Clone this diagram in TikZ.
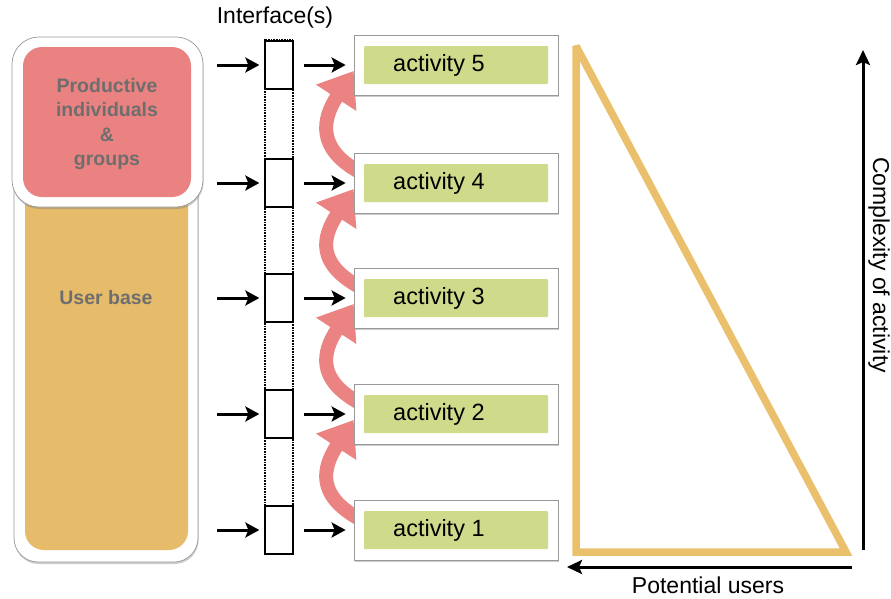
\documentclass[tikz,border=0pt]{standalone}
\usepackage{fontspec}
\setmainfont{Liberation Sans}
\usetikzlibrary{arrows.meta,shadows,backgrounds}
\definecolor{pinkc}{RGB}{233,130,128}
\definecolor{orangec}{RGB}{230,187,106}
\definecolor{greenc}{RGB}{207,218,139}
\definecolor{grayt}{RGB}{110,110,110}
\definecolor{trio}{RGB}{234,192,108}
\definecolor{arrowpink}{RGB}{234,131,129}
\tikzset{
  frame/.style={draw=black!40, line width=0.7pt, fill=white, inner sep=0pt,
    drop shadow={shadow xshift=0.6pt, shadow yshift=-2pt, opacity=0.4}},
  actframe/.style={frame, minimum width=204pt, minimum height=60pt},
  actfill/.style={fill=greenc, minimum width=184pt, minimum height=38pt, inner sep=0pt, rounded corners=1pt},
  acttext/.style={anchor=west, inner sep=0pt, font=\fontsize{23.5}{27}\selectfont},
  ifbox/.style={draw=black, line width=1.3pt, fill=white, minimum width=28pt, minimum height=48pt, inner sep=0pt},
  blk/.style={line width=3pt, -{Stealth[length=14pt,width=15pt,inset=3pt]}},
  pinkarr/.style={draw=arrowpink, line width=14pt, -{Triangle[length=32pt,width=46pt]}},
  boldlbl/.style={text=grayt, font=\bfseries\fontsize{19.5}{24.5}\selectfont, align=center},
  plainlbl/.style={font=\fontsize{23}{27}\selectfont, inner sep=0pt},
}
\begin{document}
\begin{tikzpicture}[x=1pt,y=-1pt]
\useasboundingbox (0,0) rectangle (891,598);

% left column
\node[frame, rounded corners=24pt, minimum width=184pt, minimum height=522pt] (ubo) at (106,301) {};
\node[fill=orangec, rounded corners=19pt, minimum width=163pt, minimum height=500pt, inner sep=0pt] (ub) at (106.5,300) {};
\node[boldlbl] (ubt) at (106,298) {User base};
\node[frame, rounded corners=27pt, minimum width=191pt, minimum height=170pt] (pgo) at (107.5,122) {};
\node[fill=pinkc, rounded corners=19pt, minimum width=168pt, minimum height=150pt, inner sep=0pt] (pg) at (107,122) {};
\node[boldlbl] (pgt) at (107,124) {Productive\\individuals\\\&\\groups};

% interfaces
\node[plainlbl] (ift) at (275,18) {Interface(s)};
\node[draw=black, line width=1.2pt, dash pattern=on 0.8pt off 0.8pt, minimum width=28pt, minimum height=514pt, inner sep=0pt] (col) at (279,297) {};
\foreach \i/\y in {5/65,4/183,3/298,2/414,1/530}{
  \node[ifbox] (if\i) at (279,\y) {};
  \coordinate (s\i) at (217,\y);
  \node[actframe] (act\i) at (456,\y) {};
  \node[actfill] (g\i) at (456,\y) {};
  \node[acttext] (t\i) at (393,\y) {activity \i};
  \draw[blk, shorten >=5pt] (s\i) -- (if\i.west);
  \draw[blk, shorten <=10pt, shorten >=8pt] (if\i.east) -- (act\i.west);
}

% pink curved arrows (behind boxes)
\begin{scope}[on background layer]
\foreach \a/\b in {1/2,2/3,3/4,4/5}{
  \draw[pinkarr] ([xshift=4pt,yshift=12pt]act\a.west) .. controls +(-40,-23) and +(-32,49) .. ([yshift=-6pt]act\b.west);
}
\end{scope}

% triangle
\draw[trio, line width=7.5pt, line join=miter, miter limit=3] (576,46) -- (576,552) -- (846,552) -- cycle;

% axes
\coordinate (vb) at (863,550);
\coordinate (vt) at (863,50);
\coordinate (hr) at (852,567);
\coordinate (hl) at (567,567);
\draw[line width=3pt, -{Stealth[length=15pt,width=14pt,inset=3pt]}] (vb) -- (vt);
\draw[line width=3pt, -{Stealth[length=15pt,width=14pt,inset=3pt]}] (hr) -- (hl);
\node[plainlbl, rotate=-90] (cl) at (879,265) {Complexity of activity};
\node[plainlbl] (pl) at (708,585) {Potential users};
\end{tikzpicture}
\end{document}
